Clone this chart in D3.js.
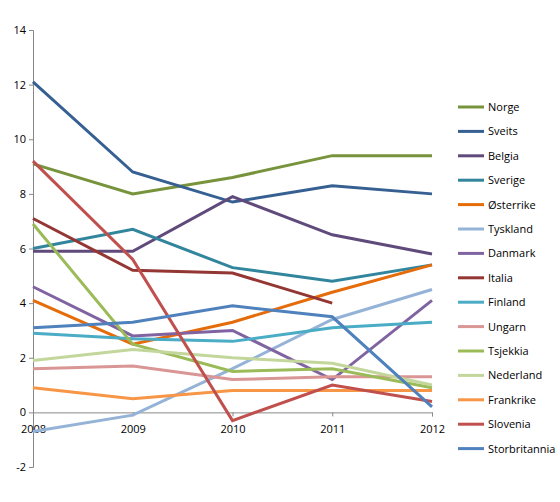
<!DOCTYPE html><html><head><meta charset="utf-8"><script src="https://cdn.jsdelivr.net/npm/d3@7"></script>
<style>body{margin:0;background:#fff}text{font-family:"Open Sans",sans-serif;font-size:11px;fill:#000}</style></head><body><svg id="c" width="560" height="502"></svg><script>
const years=[2008,2009,2010,2011,2012];
const yTicks=[-2,0,2,4,6,8,10,12,14];
const names=["Norge","Sveits","Belgia","Sverige","Østerrike","Tyskland","Danmark","Italia","Finland","Ungarn","Tsjekkia","Nederland","Frankrike","Slovenia","Storbritannia"];
const colors=["#77933C","#366092","#604A7B","#31859C","#E46C0A","#95B3D7","#8064A2","#943634","#4BACC6","#D99694","#9BBB59","#C3D69B","#F79646","#C0504D","#4F81BD"];
const values=[
[9.1,8.0,8.6,9.4,9.4],
[12.1,8.8,7.7,8.3,8.0],
[5.9,5.9,7.9,6.5,5.8],
[6.0,6.7,5.3,4.8,5.4],
[4.1,2.5,3.3,4.4,5.4],
[-0.7,-0.1,1.6,3.4,4.5],
[4.6,2.8,3.0,1.2,4.1],
[7.1,5.2,5.1,4.0,null],
[2.9,2.7,2.6,3.1,3.3],
[1.6,1.7,1.2,1.3,1.3],
[6.9,2.5,1.5,1.6,0.9],
[1.9,2.3,2.0,1.8,1.0],
[0.9,0.5,0.8,0.8,0.8],
[9.2,5.6,-0.3,1.0,0.4],
[3.1,3.3,3.9,3.5,0.2]];
const svg=d3.select("#c");
const x=d3.scaleLinear().domain([2008,2012]).range([33,432]);
const y=d3.scaleLinear().domain([-2,14]).range([467,30]);
svg.append("g").attr("transform","translate(33,0)").call(d3.axisLeft(y).tickValues(yTicks).tickSize(4).tickFormat(d=>String(d)))
 .call(g=>{g.select(".domain").attr("stroke","#888");g.selectAll("line").attr("stroke","#888");g.selectAll("text").style("font-size","11px");});
svg.append("g").attr("transform",`translate(0,${y(0)})`).call(d3.axisBottom(x).tickValues(years).tickSize(4).tickFormat(d=>String(d)))
 .call(g=>{g.select(".domain").attr("stroke","#888");g.selectAll("line").attr("stroke","#888");g.selectAll("text").attr("dy","1.2em").style("font-size","11px");});
const line=d3.line().defined(d=>d!=null).x((d,i)=>x(years[i])).y(d=>y(d));
values.forEach((v,i)=>svg.append("path").attr("d",line(v)).attr("fill","none").attr("stroke",colors[i]).attr("stroke-width",3));
const lg=svg.append("g");
names.forEach((n,i)=>{const yy=107+i*24.4;
 lg.append("line").attr("x1",458).attr("x2",484).attr("y1",yy).attr("y2",yy).attr("stroke",colors[i]).attr("stroke-width",3);
 lg.append("text").attr("x",488).attr("y",yy+4).text(n);});
</script></body></html>
